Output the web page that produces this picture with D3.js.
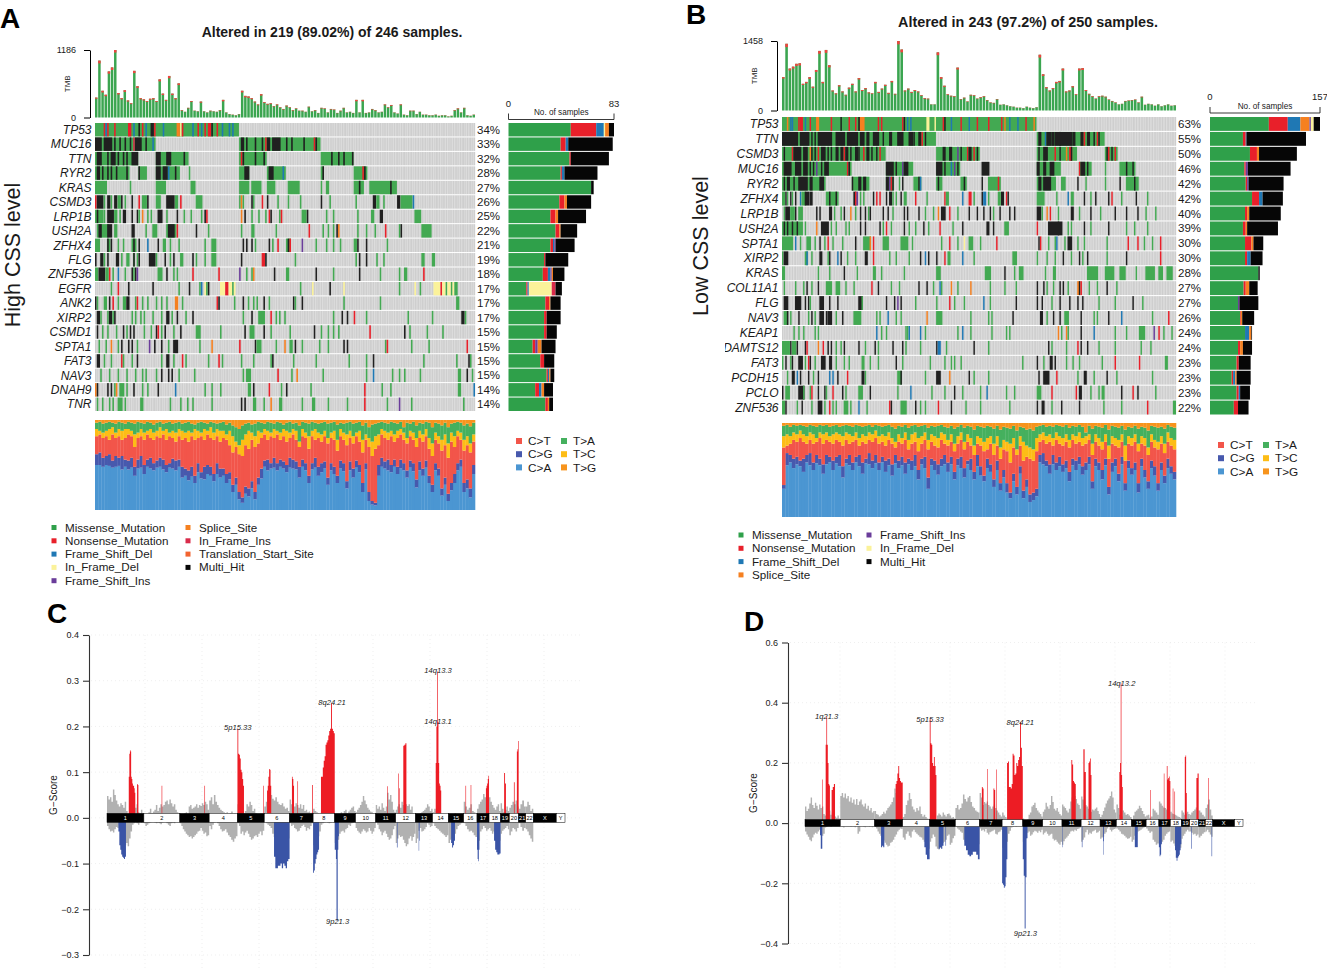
<!DOCTYPE html>
<html>
<head>
<meta charset="utf-8">
<script src="https://cdn.jsdelivr.net/npm/d3@7"></script>
<style>
  body { margin: 0; background: #fff; }
  text { font-family: "Liberation Sans", Arial, sans-serif; fill: #1a1a1a; }
</style>
</head>
<body>
<div id="graph"></div>
<script>
// variant classes used by the oncoplots
const variantNames = { g: 'Missense_Mutation', r: 'Nonsense_Mutation', b: 'Frame_Shift_Del', y: 'In_Frame_Del', p: 'Frame_Shift_Ins', o: 'Splice_Site', c: 'In_Frame_Ins', t: 'Translation_Start_Site', k: 'Multi_Hit' }
const variantColors = { g: '#2fa04a', r: '#e8202a', b: '#1f78b4', y: '#fbf29a', p: '#6a3d9a', o: '#f58020', c: '#d92b4b', t: '#f26430', k: '#060606' }
const titvNames = ['C>A', 'C>G', 'C>T', 'T>C', 'T>A', 'T>G']
const titvColors = ['#4b96d2', '#4759ad', '#f2554a', '#fdbd16', '#45b05e', '#f7941d']

// panel A
const genesA = ['TP53', 'MUC16', 'TTN', 'RYR2', 'KRAS', 'CSMD3', 'LRP1B', 'USH2A', 'ZFHX4', 'FLG', 'ZNF536', 'EGFR', 'ANK2', 'XIRP2', 'CSMD1', 'SPTA1', 'FAT3', 'NAV3', 'DNAH9', 'TNR']
const pctA = [34, 33, 32, 28, 27, 26, 25, 22, 21, 19, 18, 17, 17, 17, 15, 15, 15, 15, 14, 14]
// per gene: class + first sample [:run length], later tokens paint over earlier ones
const cellsA = [
  'g0:83 r5 r7 b6 r11 r19:2 b22 k25 r27 b29 k32:2 r34 b39 o47:2 y49 r50 b56 r59 b61 r63 r65:2 k67 r70 b73 b77 b79',
  'g0:35 k0:4 k5:5 k11 k14 k17 k20 c22 k23:4 k29 b33 g83:47 k84:2 k87 k92 k96 r98 k99:2 k102:5 k110 k113 k120 r126 k127',
  'g0:25 k1:3 k7 k9:3 k13 k16 k18 k21:4 g35:19 k35:3 k41:3 k51 g83:16 r84 k85 k92 k97 g130:19 k136 k140 k143 k148',
  'g0:20 k1:2 k4 k7 k9 k12 k18 g25:5 k25 g35:14 k35:3 k39:3 b42 k46 g54 g83:6 k86:3 g99:11 k100:3 b108 g130:2 k131 g149:8 r154 k155',
  'g0:7 g20 g35:6 g55:3 g83:6 g90:6 g99:5 g111:7 g130 g133:2 g149:6 k152 g158:16 k170',
  'r0 k1:4 g5 k7:2 g9 k11:2 g13:2 k15 g17 k21 r25 g27:3 k30 g35:3 k41:5 g46:2 r49 g58:4 g83 o84 g85 k90 g91 r96 k99 g105 g111 g118 k130 g135 g150 k160:2 g162:2 g166 k174:2 g176:7 b183',
  'g0:5 k1 g5 k7:4 g11:2 k16:2 g14 k21 k24 o27 g25 g30 g32 k36:3 g41 k47 g51 g55 k63 r64 g61 o84 k86 g90 g94 g98 r100 k101 g106 r107 g119:3 k122 g133 g137 g151 g159:2 k164:2 g184:4',
  'g1:7 k2:2 k7:3 g11:2 k21:2 g29 g33:3 g41:6 k42:4 r47 k58 g65 g84 g90:2 g104 r123 g131 g134 g137 k139 o140 g151 g156 g161 r167 g175 k176 g188:6',
  'g0:3 g7:2 k7 k9 g13 g16 g21:3 k22 k25 b30 k36 g39:2 g43 g48 g63 g67:3 k85 k87 k90 g92 k100 g102 r105 g110:3 k111 r112 p119 g127 g133 g137 g141 g149:2 k151 k156 g168',
  'k0 k3:2 g5 k7 k12:2 g15 g18:2 g22 k22 g24 k25 k31:4 g35 k40 g43 k45 g49:2 k56 g58 g63 g67:3 k84 r96:2 k98 g115 g150 k152 k156 g162 g166 g188:2 g194:2',
  'g0:2 k2:4 g6:2 r8 g10 b13 g17 g22 k21 k23 p24 g36:3 k41 g45 g47 r56 r71 p83 g87 g90 o91 k103 g110:2 k127 g137 k152 g164 g175 g178:2 r189',
  'g9 r13 k19 k33 g48 k54 g60 b61 y63 g64 k65 y72:3 r75:2 y77:2 g79 y80 g118 y125 k135 y143 g175 y184 g187 y195:4 r199 y200:2 g202 y203:2 g205 y206 g207:2',
  'k0 g1 g5:2 k8 r10 g13 g16:2 k18:2 g23 r24 g27 g30 g35 g38 g41 o46:2 g50 r70 k71 g80 k85 g88 g91 g93 k97 g100 k114 g115 k119 g143 g164 g208:2',
  'k1:2 g3 g7 k8:2 g10 k11 g21 g23 g26 g28 g33 g38 k41:2 g44 k47 g52 k56 g85 k90 g94:4 r101 g104 g106 g109 g137 k142 k145 r149 g156 g180 g194 k211:2 g213',
  'k1 g4 g7 g12 k16 g18 k20 k22 g28 g32 k35 r36 g38 k40 g45 k49 g58:3 g72 k86 g89:3 k97 g101 g112 k126 g130 g134 g137 g140 r158 k178 g181 g191 g200',
  'g2 g6 o9 g13 k15 k19 k21 g24 p31 k34 k38 g42 k45:3 g60 o67 r83 k92 g93:3 g104 o109 g112:2 k115 g119 g129 g134 k143 k145 g167 r168 g182 g192 r214',
  'k1:2 g5 g9 r15 g16 g21 k24 g38 k41:2 g45 r50 g52 g65 r71 g73 g84 g91 g101 k102 g114 g127 g146 g156 k160 g189 g208 k215 g216',
  'g3 g8 g13 g18 g23 g27 g29 g35 k38 k42 k44 g48 g57 g85 g87:3 r105 g113 o116 g131 g156 b160 g171 g175 g178 g187 g209:2 k214 g217',
  'o0 k1 k7 k9 g11 o12 g14:3 g18 k22 g27 g30 k36 b46 g63 g67 g72 g88:2 k91 r100 g107 k110 g124 r155 g165 g170 g209:2 b218',
  'g1 g4 g8 g10 g13:3 g17 g26:2 g43 g49 g53 g56 g67 k84 k86 g91:2 g97 o101 g106:2 g119 g125:2 g134 g145 r155 g168 p175 g182 g212'
]
// per gene counts per class, drawn left to right in this order
const sideOrderA = ['g', 'r', 'b', 'y', 'p', 'o', 'c', 'k']
const sideA = [
  [49, 20, 6, 1, 0, 3, 0, 4], [41, 4, 2, 0, 0, 0, 0, 35], [48, 1, 0, 0, 0, 0, 0, 30], [41, 1, 2, 0, 0, 0, 0, 26], [65, 0, 0, 0, 0, 0, 0, 2],
  [40, 4, 0, 0, 0, 2, 0, 19], [33, 4, 0, 0, 0, 2, 0, 22], [37, 3, 0, 0, 0, 1, 0, 13], [33, 2, 1, 0, 1, 0, 0, 15], [28, 1, 0, 0, 0, 0, 0, 18],
  [27, 4, 2, 0, 1, 1, 0, 9], [14, 1, 1, 18, 0, 0, 3, 5], [29, 3, 0, 0, 0, 1, 0, 8], [28, 2, 0, 0, 0, 0, 0, 11], [28, 2, 0, 0, 0, 0, 0, 8],
  [19, 2, 0, 0, 2, 3, 0, 11], [25, 3, 0, 0, 0, 0, 0, 8], [30, 1, 1, 0, 0, 1, 0, 3], [21, 3, 2, 0, 0, 2, 0, 7], [29, 2, 0, 0, 0, 1, 0, 3]
]
const tmbA = [350, 1000, 470, 400, 810, 880, 1186, 430, 340, 480, 300, 250, 820, 550, 340, 320, 290, 330, 340, 290, 670, 420, 310, 730, 420, 340, 600, 130, 100, 170, 290, 120, 110, 280, 110, 90, 120, 110, 100, 130, 310, 90, 60, 50, 40, 60, 470, 380, 370, 340, 280, 230, 410, 270, 240, 250, 200, 230, 180, 150, 210, 180, 130, 160, 120, 120, 100, 190, 110, 130, 80, 170, 160, 90, 150, 140, 80, 120, 170, 90, 100, 80, 310, 90, 310, 80, 90, 150, 130, 90, 100, 230, 180, 220, 90, 70, 230, 50, 40, 120, 120, 60, 100, 50, 50, 40, 40, 50, 30, 40, 40, 20, 30, 130, 160, 90, 170, 40, 30, 50]
const tmbCapA = [20, 50, 30, 25, 40, 45, 45, 25, 20, 30, 20, 15, 40, 30, 20, 20, 15, 20, 20, 15, 35, 25, 15, 40, 25, 20, 30, 10, 5, 10, 15, 5, 5, 20, 5, 5, 10, 5, 5, 10, 25, 5, 5, 5, 5, 5, 30, 25, 25, 20, 15, 15, 25, 15, 15, 15, 10, 15, 10, 10, 15, 10, 10, 10, 5, 10, 5, 10, 5, 10, 5, 10, 10, 5, 10, 10, 5, 10, 10, 5, 5, 5, 25, 5, 25, 5, 5, 10, 10, 5, 5, 15, 10, 15, 5, 5, 15, 5, 5, 10, 10, 5, 5, 5, 5, 5, 5, 5, 5, 5, 5, 5, 5, 10, 15, 5, 10, 5, 5, 5]
const caA = [50, 50, 48, 50, 49, 47, 48, 49, 45, 48, 45, 47, 38, 46, 47, 40, 48, 46, 44, 47, 48, 45, 42, 47, 46, 44, 48, 36, 38, 33, 37, 30, 42, 35, 34, 40, 38, 32, 40, 36, 38, 30, 34, 20, 28, 12, 8, 18, 15, 24, 12, 28, 35, 48, 44, 46, 47, 44, 48, 46, 42, 47, 46, 45, 36, 48, 44, 30, 45, 47, 38, 42, 46, 28, 44, 40, 30, 46, 43, 24, 44, 36, 47, 42, 20, 45, 10, 6, 5, 38, 48, 46, 44, 42, 48, 40, 46, 44, 36, 47, 43, 25, 44, 38, 47, 30, 20, 44, 38, 16, 28, 10, 22, 30, 44, 48, 20, 24, 14, 40]
const cgTopA = [62, 64, 58, 60, 62, 55, 60, 58, 60, 56, 55, 58, 48, 56, 60, 50, 56, 58, 52, 55, 58, 56, 50, 52, 57, 55, 56, 48, 46, 44, 48, 38, 52, 42, 48, 50, 48, 40, 52, 46, 46, 40, 42, 28, 36, 20, 14, 26, 24, 32, 20, 36, 46, 55, 56, 52, 58, 52, 56, 54, 50, 58, 56, 54, 48, 56, 52, 38, 52, 58, 48, 52, 54, 36, 52, 48, 38, 55, 52, 32, 54, 46, 55, 50, 30, 52, 20, 10, 8, 50, 58, 54, 56, 50, 56, 48, 56, 52, 44, 55, 52, 34, 54, 46, 55, 38, 28, 52, 46, 24, 36, 18, 30, 40, 52, 56, 30, 34, 24, 50]
const ctTopA = [82, 84, 80, 82, 78, 84, 80, 82, 78, 80, 84, 82, 70, 80, 82, 78, 84, 80, 78, 82, 80, 84, 78, 82, 80, 76, 82, 78, 80, 76, 82, 78, 80, 82, 78, 84, 80, 78, 82, 76, 80, 78, 72, 64, 70, 62, 60, 72, 68, 78, 70, 74, 80, 84, 78, 82, 80, 84, 78, 82, 76, 80, 84, 78, 70, 82, 80, 68, 82, 78, 80, 76, 82, 74, 80, 78, 66, 82, 78, 72, 80, 74, 82, 76, 64, 78, 70, 60, 68, 72, 84, 80, 78, 82, 76, 80, 84, 78, 74, 82, 78, 70, 80, 76, 82, 68, 60, 78, 74, 66, 72, 58, 76, 70, 82, 78, 66, 72, 64, 76]
const tcTopA = [90, 88, 86, 88, 90, 92, 86, 90, 88, 90, 90, 88, 84, 86, 90, 86, 88, 90, 86, 88, 92, 88, 90, 86, 88, 86, 90, 88, 86, 88, 86, 90, 88, 86, 90, 88, 92, 86, 90, 88, 88, 84, 88, 82, 76, 72, 78, 84, 88, 86, 82, 88, 86, 90, 88, 86, 90, 88, 86, 90, 88, 86, 90, 88, 76, 90, 86, 82, 88, 90, 86, 84, 88, 80, 86, 88, 78, 90, 86, 84, 88, 82, 86, 88, 78, 84, 80, 76, 82, 84, 90, 88, 86, 88, 84, 88, 90, 86, 80, 88, 86, 80, 88, 84, 90, 80, 74, 86, 82, 78, 84, 74, 86, 82, 88, 86, 78, 82, 74, 84]
const taTopA = [97, 98, 96, 97, 98, 97, 96, 98, 97, 96, 98, 97, 96, 98, 97, 96, 98, 97, 95, 97, 98, 96, 97, 98, 96, 97, 98, 96, 97, 98, 96, 95, 97, 98, 97, 96, 98, 97, 96, 97, 98, 95, 97, 94, 92, 90, 94, 96, 97, 95, 96, 98, 97, 96, 98, 97, 96, 98, 97, 95, 97, 98, 96, 97, 94, 98, 97, 96, 98, 97, 96, 97, 98, 96, 97, 98, 95, 97, 96, 97, 98, 96, 97, 98, 94, 97, 92, 95, 96, 97, 98, 97, 96, 98, 97, 96, 98, 92, 97, 96, 98, 94, 97, 96, 98, 97, 92, 97, 96, 94, 97, 92, 96, 97, 98, 97, 94, 96, 93, 97]
const legendA = ['g', 'r', 'b', 'y', 'p', 'o', 'c', 't', 'k']

// panel B
const genesB = ['TP53', 'TTN', 'CSMD3', 'MUC16', 'RYR2', 'ZFHX4', 'LRP1B', 'USH2A', 'SPTA1', 'XIRP2', 'KRAS', 'COL11A1', 'FLG', 'NAV3', 'KEAP1', 'ADAMTS12', 'FAT3', 'PCDH15', 'PCLO', 'ZNF536']
const pctB = [63, 55, 50, 46, 42, 42, 40, 39, 30, 30, 28, 27, 27, 26, 24, 24, 23, 23, 23, 22]
const cellsB = [
  'g0:157 o3 b5 r10 b6 r11:2 b14 r17 o21:2 r30 k36 r41 r45 k47:2 o48:3 r59 r61 r74 k75 b77 b79 y89:2 y94 r99 k100 b104 r110 b115 r120 r127 r135 o137 b140 b145 r150 o155',
  'g0:95 k0:10 k11:6 k18 k20 k22:9 k33:6 k40:7 k48:3 k52:2 k56:4 k62 k66:2 k71:4 k78:3 k81 k84:2 r86 k88 g157:42 k158:2 b162 k163:3 k166:2 k168:4 k171:8 k179:2 k184:2 r186 k188:2 k192 r194 k195',
  'g0:64 k1 r6 k7:5 k13:3 o17 k18 k20 r22 k24:3 k28 k30 k33:2 k36:2 r38 k39:2 k42 k45:2 k47 r50 k52:2 k55 k58 r60 g95:27 k99:2 k103:2 p108 k110 r114 k115:2 r118 k120 g157:25 k158 k161:3 r168 k171 o175 r177:2 k178 g199:8 k200 r201 k203 r205',
  'g0:43 k1:5 k8:4 k13:3 k17 k19 p21 k24 k26:3 r40 k41 g64:17 k64:5 k70 p74 k75:3 g95:15 k95:4 k100 b104 p106 k108 k123:5 g157:15 k157:2 k161:2 k165:3 g183:8 r183 k184:3 k188 g199 g208:10 k212 k216',
  'g0:27 k1 k3:2 k7 k10:6 k17:2 k23:3 g43:11 k43 k47:2 k50:2 g64:5 k64:2 p66 r67 k68 g72 k74 g81:5 k84 b85 g95:4 k96 g110:4 k112 k123 g127:8 r133 g157:12 k158:2 k161:5 g172:3 k182 g187 g199 k208 g212:8 k217',
  'g0:2 k2 g3 k5 g6 k8 b11 g12:3 k14:3 k17:2 g27:8 k29 k33 k44:2 r45 p46 g48 g50 k56 r58 r60 k64 k66:2 g68 g70 k73 g75:2 r82 g89 r100 g101:2 b111 r115:2 g118 k123 b124:2 g127 g133:2 k135:2 r138 k139 g157:5 g169 b176 g178:2 k186 g190 k193 k201 r203 g209 k218 g225',
  'g1 k2:3 g5:3 k8 g10:3 k21 k23 k29:2 g32 g36 k38 o42 g45 k48 k51 g53 k54 k62 k65 g68 k75 k77 k84 g88 g93 o96 k98:3 r103 g108 k115 k120 k124 k128 g130 k134 k140 k143 k157:3 g160 o163 r165 g170 k178:2 g183 k190 g196 k205 k212 k219 g224 g230',
  'g0:13 k1 k3 k6 k9 g14 o21 k24:5 g30 g33 g39 g41 k48 k51 k60 g62 r64 g67 k75 g78 g82 k87 g90 r97 g105 k111 k126:2 k130 g137:3 r157 k164:7 k170:3 g176 g178 k186 g190 k201 g212 g217 g225',
  'g0:7 b8 g11 g15:3 g20 k23 g26 r28 g31 g37 k45 g50:5 o54 r56 g62:4 g73:5 g80 g98 r103 g108 y112 g115:3 g122 r132 k158 r159 g164 g168 b169 g174 k176:3 g182 g186 g200 r213 r219 g223 g228 r233',
  'g0 k1:3 g14:2 b15 g18 k23:2 g28 k29 b34 k36 g40 g45 k51:2 r56 g66 g70 g78 k85 b88 k90 k95 r100 g102:2 b111 g118 g142:3 g157 g163 g168 k173 g178 k183 g185 k188 g200 k212 r233',
  'g0:2 g22 g29 k38 g46 g56:2 g61 g75 g95:3 g125:4 k137 g143 g146:3 g162 g167:2 g188:7 g199:6 g208:4 g218 g224:6 g232:3 g237:4',
  'g1 g8 g13 k15 g18 k22 g27:4 g33:3 g39 g44 r55 k59 g67 g72 k84 k89 g93 b97 g98 o104 g108 o116 g128 g137 g144 k157 k161 g163 g167 k171 k173 g176 o182:2 k183 r184 g189 g194 k200 g206',
  'k1:3 k8:4 k14 k16 g17 k23:3 k29 k34 k47:3 g49 k64 k69 p71 k73 g82 g95 r103 g106 g112 b124 g128 k144 k157 k160 g166 k171 k177 k182 k185 g195 g205 k216 g222',
  'g1:3 k3 g5 k10 g16 k18 g20 k23:3 k27 k28:3 g33 k37 g44:5 g58 g60 b65 g70 g73 o89 g95:4 g116 g127 g129 k142 k159:2 g163 k167 k171 g174:3 k184 g192 g194 k201 b209 g228 r238',
  'g7 g10 g13 g20 g22 b58 g61 g64 g76 g77 b78 b85 g88 g108 b111 g116 g129 g138 g140 o170 g172 o175 g176 k184 b192 g205 g212 g220:4 p229 r232 g235 g240',
  'g0:5 k5 g6:3 k9 k14 r15 o22 r25 k28 k30 g33 g36 k38 k47 g51 k57 g59 k68 k74 g76 g85 k95 b96:2 g101 k118 g127 k164 g166 g175 r182 k184 k188 g195 g205 g221 g227',
  'g0 k2 g5 k6 k10:3 g14 r16 k17 g20 k24:3 k29:2 g33 g38 g41 g49:2 g54 g59 k70 g74 g91 g100 g104 g106 g110 g148 k157 g161 k165:2 k168 g175 g179 g183 g197 r205 r220 g236:2',
  'g3 k6:2 b9 k11 k16 g19 k22 b29 b31 k34 r40 k49:2 g51 g71:3 k73 g88 k95:3 o103 k115 g118 g127 k158 k161:4 r169 g182 k186:2 g192 k200 g206 g228',
  'k0 g2:3 k10:4 g13 g17 r18 k22 k26 g27 r31 k37 g39 g47:3 k54 g71 b79 g92 g100 k106 g111 g122 b126 g138 g143 g157:3 r166 r181 k183:2 g190 g195 g197:2 k209 r216 k219 g230',
  'g0:2 k2 g9 k12 g18 k22:3 g26 r29 g31 g33 g38:3 g42 b47 g52 r66 k67 g73:4 k82 g85 g88 r96 k104 g113 g122 g140 k157 k160:2 g166 k172 k183 g198 g209 r225 g241:2'
]
const sideOrderB = ['g', 'r', 'b', 'o', 'p', 'y', 'k']
const sideB = [
  [84, 27, 18, 13, 2, 4, 9], [47, 4, 1, 0, 0, 0, 85], [57, 10, 0, 3, 0, 0, 54], [49, 2, 0, 0, 3, 0, 61], [51, 2, 0, 0, 2, 0, 50],
  [60, 10, 5, 0, 0, 0, 29], [50, 3, 0, 3, 0, 0, 45], [47, 4, 0, 2, 0, 0, 44], [50, 9, 0, 3, 0, 0, 14], [50, 3, 5, 0, 0, 0, 17],
  [69, 0, 0, 0, 0, 0, 2], [48, 3, 0, 5, 0, 0, 12], [40, 0, 0, 0, 2, 0, 27], [43, 1, 0, 2, 0, 0, 17], [50, 0, 6, 3, 0, 0, 1],
  [40, 3, 0, 4, 0, 0, 13], [38, 3, 0, 0, 0, 0, 17], [31, 2, 3, 2, 0, 0, 20], [38, 3, 2, 0, 0, 0, 14], [34, 6, 0, 0, 0, 0, 15]
]
const tmbB = [700, 1400, 880, 920, 980, 990, 560, 600, 700, 500, 850, 1250, 600, 1270, 950, 420, 360, 530, 400, 330, 480, 560, 400, 680, 430, 470, 380, 360, 600, 390, 460, 540, 370, 620, 350, 1458, 1280, 420, 460, 390, 430, 400, 320, 260, 250, 130, 130, 1220, 700, 520, 340, 310, 300, 900, 240, 270, 190, 330, 320, 250, 280, 300, 220, 170, 160, 240, 120, 130, 110, 90, 80, 60, 60, 50, 80, 60, 50, 70, 1170, 760, 490, 420, 470, 600, 620, 880, 400, 420, 510, 340, 880, 890, 430, 350, 300, 250, 300, 310, 290, 230, 200, 170, 130, 140, 200, 210, 220, 230, 170, 290, 120, 140, 130, 100, 130, 90, 110, 130, 100, 110]
const tmbCapB = [30, 70, 40, 40, 45, 45, 25, 30, 35, 25, 40, 60, 30, 60, 45, 20, 20, 25, 20, 15, 25, 25, 20, 30, 20, 25, 20, 15, 30, 20, 20, 25, 20, 30, 15, 70, 60, 20, 20, 20, 20, 20, 15, 15, 15, 5, 5, 60, 35, 25, 15, 15, 15, 40, 10, 15, 10, 15, 15, 10, 15, 15, 10, 10, 10, 10, 5, 5, 5, 5, 5, 5, 5, 5, 5, 5, 5, 5, 60, 35, 25, 20, 20, 30, 30, 40, 20, 20, 25, 15, 40, 40, 20, 15, 15, 10, 15, 15, 15, 10, 10, 10, 5, 5, 10, 10, 10, 10, 10, 15, 5, 5, 5, 5, 5, 5, 5, 5, 5, 5]
const caB = [30, 55, 58, 52, 56, 54, 48, 58, 55, 50, 57, 55, 46, 56, 58, 50, 57, 54, 42, 57, 55, 50, 58, 54, 46, 57, 56, 52, 57, 50, 58, 48, 55, 44, 57, 52, 55, 46, 56, 50, 54, 40, 56, 52, 30, 55, 50, 45, 54, 56, 48, 56, 40, 55, 52, 42, 56, 50, 40, 54, 44, 38, 52, 48, 32, 50, 28, 42, 26, 20, 38, 24, 46, 20, 32, 16, 18, 22, 58, 56, 54, 46, 56, 50, 54, 48, 52, 38, 55, 50, 56, 45, 50, 56, 30, 54, 50, 40, 55, 24, 48, 54, 38, 56, 28, 52, 45, 50, 26, 54, 42, 30, 52, 44, 28, 50, 36, 52, 46, 40]
const cgTopB = [34, 68, 66, 62, 64, 60, 62, 66, 68, 58, 66, 62, 56, 66, 64, 60, 64, 66, 54, 62, 66, 58, 64, 66, 58, 62, 68, 60, 66, 58, 64, 60, 62, 56, 66, 60, 64, 58, 62, 60, 66, 50, 62, 64, 42, 62, 60, 56, 62, 66, 58, 64, 48, 62, 64, 52, 60, 62, 48, 66, 54, 44, 62, 56, 40, 60, 36, 50, 36, 26, 46, 32, 54, 28, 40, 24, 26, 30, 66, 68, 60, 56, 66, 58, 64, 56, 60, 48, 62, 60, 64, 54, 58, 64, 38, 62, 58, 50, 62, 32, 58, 62, 46, 64, 36, 60, 52, 58, 36, 62, 50, 38, 60, 54, 36, 58, 44, 62, 54, 48]
const ctTopB = [74, 76, 78, 82, 80, 84, 80, 78, 82, 78, 80, 84, 78, 82, 80, 78, 82, 80, 76, 82, 78, 80, 82, 76, 80, 78, 82, 80, 84, 78, 80, 76, 82, 78, 74, 80, 78, 82, 72, 78, 80, 70, 78, 82, 72, 80, 76, 74, 82, 78, 76, 80, 70, 78, 82, 72, 80, 76, 66, 78, 76, 70, 72, 78, 66, 76, 62, 72, 70, 58, 74, 66, 76, 60, 64, 62, 60, 70, 80, 82, 78, 80, 76, 82, 78, 76, 80, 74, 82, 78, 80, 76, 78, 82, 66, 80, 76, 72, 80, 62, 78, 76, 74, 80, 60, 78, 76, 80, 70, 78, 76, 66, 80, 74, 72, 78, 68, 80, 76, 72]
const tcTopB = [86, 88, 86, 90, 88, 92, 88, 86, 90, 88, 84, 90, 88, 90, 86, 88, 90, 88, 86, 90, 88, 86, 90, 84, 88, 86, 90, 88, 92, 86, 88, 86, 90, 84, 80, 88, 84, 90, 82, 88, 90, 84, 86, 90, 82, 88, 86, 84, 90, 88, 82, 88, 78, 86, 90, 80, 88, 84, 76, 86, 84, 80, 84, 86, 78, 86, 74, 82, 80, 78, 84, 72, 86, 80, 76, 74, 72, 84, 88, 90, 86, 88, 84, 90, 86, 84, 88, 82, 88, 86, 90, 84, 86, 88, 78, 88, 84, 80, 88, 76, 86, 84, 82, 88, 76, 86, 84, 88, 78, 86, 84, 74, 88, 82, 80, 86, 78, 90, 84, 82]
const taTopB = [97, 98, 96, 98, 97, 98, 97, 96, 98, 97, 96, 98, 97, 98, 96, 97, 98, 96, 97, 98, 97, 96, 98, 97, 96, 97, 98, 96, 98, 97, 96, 97, 98, 96, 94, 97, 96, 98, 95, 97, 98, 96, 97, 98, 95, 97, 96, 97, 98, 96, 95, 97, 94, 96, 98, 95, 97, 96, 93, 97, 96, 95, 97, 96, 94, 97, 93, 96, 95, 94, 97, 92, 96, 95, 93, 94, 92, 96, 97, 98, 96, 97, 96, 98, 97, 96, 98, 95, 97, 96, 98, 96, 90, 97, 94, 97, 96, 95, 98, 93, 97, 96, 95, 97, 93, 96, 95, 97, 94, 96, 95, 92, 97, 96, 95, 96, 94, 98, 96, 95]
const legendB = ['g', 'r', 'b', 'o', 'p', 'y', 'k']

// chromosome sizes, Mb
const chroms = ['1', '2', '3', '4', '5', '6', '7', '8', '9', '10', '11', '12', '13', '14', '15', '16', '17', '18', '19', '20', '21', '22', 'X', 'Y']
const chromMb = [249, 243, 198, 191, 181, 171, 159, 146, 141, 136, 135, 134, 115, 107, 103, 90, 81, 78, 59, 63, 48, 51, 155, 59]

// G-scores x1000: non significant profile, one list per autosome
const ampGrayC = [
  [48, 40, 45, 35, 62, 50, 38, 30, 25, 32, 28, 22, 35, 15, 8, 30, 25, 20, 15, 22, 30, 12, 10, 18, 8],
  [5, 8, 6, 12, 20, 10, 14, 18, 28, 15, 22, 30, 25, 28, 35, 38, 30, 40, 32, 25, 30, 18, 12, 10],
  [5, 3, 8, 10, 12, 8, 25, 28, 20, 22, 25, 30, 22, 28, 26, 32, 28, 35, 30, 18],
  [38, 45, 30, 50, 35, 28, 22, 18, 15, 12, 10, 12, 8, 10, 14, 8, 10, 6],
  [30, 20, 25, 12, 10, 15, 30, 25, 35, 28, 15, 20, 10, 8, 5, 8, 6, 5],
  [25, 35, 58, 40, 50, 42, 38, 45, 35, 30, 28, 32, 25, 20, 22, 15],
  [40, 30, 35, 25, 32, 28, 22, 30, 20, 28, 15, 18, 12, 14, 10, 12],
  [20, 15, 12, 10, 8, 12, 10, 8, 10, 8, 10, 8, 8, 6],
  [4, 6, 5, 8, 12, 8, 15, 18, 10, 14, 18, 22, 25, 15],
  [12, 18, 22, 28, 35, 48, 38, 30, 22, 18, 14, 12, 10, 8],
  [28, 20, 25, 18, 32, 22, 15, 25, 55, 40, 50, 35, 18, 12],
  [18, 25, 30, 22, 35, 28, 22, 30, 26, 30, 18, 25, 10, 8],
  [3, 5, 8, 10, 12, 15, 18, 22, 30, 25, 15, 20],
  [12, 20, 15, 10, 10, 8, 6, 5, 5, 4],
  [4, 6, 5, 8, 10, 8, 6, 4, 6, 5],
  [35, 25, 18, 22, 30, 15, 12, 8],
  [20, 30, 35, 40, 52, 45, 38, 30],
  [45, 35, 28, 22, 18, 25, 30, 15],
  [32, 20, 12, 18, 25, 15],
  [22, 28, 35, 30, 38, 25],
  [20, 30, 38, 25],
  [25, 35, 28, 15, 20]
]
const delGrayC = [
  [18, 25, 30, 28, 32, 25, 20, 22, 15, 12, 35, 40, 60, 55, 62, 45, 30, 15, 12, 10, 12, 15, 8, 10, 8],
  [12, 18, 15, 12, 10, 8, 6, 10, 12, 10, 12, 14, 10, 8, 6, 12, 15, 18, 12, 10, 12, 8, 6, 8],
  [12, 18, 25, 30, 35, 38, 42, 40, 45, 42, 38, 35, 30, 28, 22, 28, 35, 32, 40, 38],
  [18, 25, 15, 10, 8, 12, 18, 25, 30, 28, 25, 32, 38, 42, 48, 52, 45, 40],
  [12, 18, 35, 30, 38, 32, 28, 35, 42, 48, 45, 40, 38, 42, 35, 30, 38, 28],
  [8, 12, 15, 18, 22, 35, 42, 50, 55, 60, 58, 62, 60, 55, 50, 45],
  [12, 18, 15, 22, 25, 30, 28, 22, 18, 15, 20, 28, 22, 25, 18, 12],
  [60, 55, 50, 40, 30, 15, 12, 10, 8, 10, 12, 10, 8, 10],
  [55, 50, 48, 35, 30, 28, 32, 25, 22, 15, 18, 12, 10, 8],
  [22, 28, 32, 35, 30, 25, 28, 32, 30, 22, 28, 35, 30, 22],
  [8, 15, 25, 30, 38, 32, 28, 35, 42, 48, 45, 38, 25, 18],
  [55, 45, 38, 42, 40, 48, 55, 62, 58, 45, 40, 50, 42, 35],
  [55, 45, 28, 22, 30, 28, 25, 20, 12, 15, 20, 18],
  [12, 18, 22, 25, 28, 32, 35, 38, 42, 38],
  [55, 48, 45, 40, 35, 25, 18, 15, 12, 10],
  [12, 18, 25, 30, 28, 32, 38, 42],
  [62, 50, 30, 25, 18, 22, 28, 25],
  [22, 28, 35, 30, 48, 55, 60, 50],
  [35, 28, 25, 22, 18, 25],
  [38, 30, 22, 25, 30, 22],
  [12, 20, 28, 22],
  [25, 30, 38, 45, 52]
]
const ampGrayD = [
  [55, 40, 48, 65, 85, 60, 50, 68, 58, 45, 62, 50, 55, 30, 25, 35, 30, 42, 28, 35, 30, 22, 18, 25, 15],
  [90, 100, 85, 98, 82, 90, 72, 85, 68, 78, 62, 80, 60, 72, 78, 62, 55, 65, 48, 58, 42, 50, 35, 40],
  [40, 30, 28, 22, 25, 30, 38, 32, 42, 50, 55, 62, 70, 85, 115, 100, 40, 30, 25, 15],
  [20, 30, 60, 75, 100, 80, 55, 45, 38, 50, 42, 55, 30, 22, 28, 20, 15, 12],
  [18, 25, 20, 15, 12, 25, 32, 28, 22, 35, 28, 22, 30, 32, 25, 18, 20, 15],
  [50, 60, 45, 50, 65, 95, 80, 72, 85, 90, 70, 55, 50, 42, 38, 35],
  [100, 85, 60, 70, 65, 72, 60, 55, 48, 55, 62, 50, 42, 35, 28, 22],
  [35, 25, 20, 15, 18, 12, 10, 8, 12, 10, 8, 10, 8, 6],
  [15, 10, 8, 12, 28, 35, 55, 60, 68, 50, 42, 35, 30, 22],
  [38, 45, 68, 55, 48, 60, 90, 70, 48, 42, 50, 38, 30, 25],
  [62, 55, 50, 42, 35, 48, 72, 85, 100, 90, 80, 65, 60, 48],
  [88, 78, 72, 60, 55, 48, 42, 38, 45, 42, 48, 52, 40, 30],
  [20, 28, 40, 52, 65, 75, 82, 90, 105, 85, 45, 35],
  [62, 50, 28, 22, 42, 35, 28, 30, 25, 20],
  [12, 25, 38, 42, 48, 58, 50, 40, 30, 22],
  [25, 28, 18, 22, 48, 42, 35, 28],
  [72, 65, 58, 52, 50, 45, 42, 38],
  [38, 32, 30, 28, 25, 22, 20, 18],
  [42, 35, 28, 32, 38, 30],
  [28, 35, 40, 45, 52, 42],
  [42, 35, 28, 22],
  [50, 62, 78, 45, 25]
]
const delGrayD = [
  [28, 38, 45, 55, 60, 48, 38, 32, 35, 28, 22, 25, 42, 35, 15, 12, 10, 8, 12, 10, 8, 10, 8, 6, 8],
  [8, 12, 15, 10, 8, 6, 10, 12, 8, 10, 14, 8, 35, 28, 10, 8, 12, 14, 10, 8, 12, 10, 14, 10],
  [12, 18, 28, 35, 42, 50, 58, 65, 72, 78, 75, 65, 62, 55, 45, 38, 28, 22, 18, 20],
  [48, 55, 35, 28, 42, 48, 28, 22, 30, 35, 40, 45, 48, 55, 62, 78, 92, 85],
  [62, 50, 38, 45, 78, 85, 88, 82, 75, 65, 62, 55, 42, 38, 72, 65, 50, 42],
  [12, 18, 22, 28, 32, 55, 62, 60, 65, 68, 70, 72, 68, 72, 75, 70],
  [18, 25, 22, 28, 20, 32, 38, 30, 28, 25, 22, 35, 38, 30, 28, 22],
  [82, 78, 70, 62, 35, 25, 15, 12, 10, 12, 10, 8, 10, 8],
  [62, 55, 50, 32, 28, 42, 38, 30, 25, 28, 32, 25, 30, 22],
  [38, 32, 28, 35, 42, 38, 35, 52, 58, 55, 62, 68, 72, 62],
  [72, 60, 52, 48, 42, 35, 28, 25, 28, 22, 25, 20, 18, 15],
  [62, 55, 48, 30, 22, 38, 32, 35, 28, 25, 22, 32, 30, 25],
  [52, 48, 45, 35, 30, 18, 12, 22, 28, 22, 20, 18],
  [18, 22, 28, 35, 38, 42, 48, 52, 50, 45],
  [62, 55, 42, 35, 28, 25, 22, 18, 15, 12],
  [18, 25, 32, 28, 55, 62, 72, 68],
  [72, 65, 62, 55, 42, 35, 30, 28],
  [62, 58, 68, 75, 78, 85, 90, 82],
  [52, 42, 35, 28, 22, 28],
  [28, 32, 38, 35, 42, 38],
  [48, 42, 35, 30],
  [28, 22, 30, 38, 45]
]

// significant regions: chromosome, from Mb, to Mb, G-scores x1000
const ampPeaksC = [
  ['1', 147, 191, [90, 140, 148, 145, 90, 85, 75, 70, 70, 65, 55]], ['1', 203, 212, [74, 72]], ['2', 120, 124, [70]], ['3', 166, 170, [70]],
  ['5', 0, 44, [195, 140, 138, 130, 105, 100, 85, 70]], ['5', 173, 177, [70]], ['6', 19, 47, [60, 70, 90, 107, 105, 70]],
  ['7', 16, 30, [90, 85, 70]], ['7', 53, 57, [80]], ['7', 152, 157, [72]],
  ['8', 53, 146, [90, 90, 110, 125, 135, 160, 165, 170, 180, 190, 195, 250, 195, 190, 185]],
  ['11', 78, 82, [69]], ['12', 18, 26, [97, 65]], ['12', 51, 72, [158, 160, 163]],
  ['14', 21, 58, [120, 200, 320, 210, 120, 75, 70, 60]], ['16', 12, 16, [70]], ['16', 47, 51, [72]], ['17', 60, 81, [65, 70, 75, 85, 92]],
  ['19', 24, 36, [98, 75]], ['20', 31, 36, [78]], ['20', 51, 63, [145, 150, 168]]
]
const delPeaksC = [
  ['1', 77, 128, [30, 60, 70, 80, 85, 87, 90, 85]], ['6', 66, 171, [85, 110, 110, 105, 105, 100, 110, 100, 105, 110, 95, 90]],
  ['8', 0, 40, [120, 115, 100, 90, 80, 75, 70]], ['9', 0, 28, [70, 70, 90, 225, 225, 70, 40]], ['12', 8, 12, [65]], ['13', 21, 27, [72, 50]],
  ['15', 18, 44, [55, 65, 60, 50]], ['17', 0, 16, [70, 90, 95, 70]], ['18', 34, 78, [50, 70, 75, 80, 80, 78]]
]
const ampPeaksD = [
  ['1', 120, 124, [145]], ['1', 146, 176, [260, 355, 260, 200, 130, 125]], ['1', 188, 212, [110, 120, 130]],
  ['3', 148, 198, [130, 140, 165, 190, 150, 140, 135, 135]], ['5', 0, 47, [345, 265, 260, 200, 190, 220, 190, 160]],
  ['7', 16, 28, [120, 115]], ['7', 54, 58, [180]], ['7', 98, 110, [115, 110]], ['7', 116, 120, [178]],
  ['8', 35, 146, [200, 205, 120, 120, 115, 130, 230, 225, 160, 165, 200, 190, 210, 220, 335, 250, 190]],
  ['11', 66, 97, [210, 195, 140, 135, 130]], ['12', 16, 33, [245, 170]], ['12', 52, 73, [200, 205, 215, 160]],
  ['14', 21, 45, [170, 200, 465, 160, 120]], ['16', 29, 33, [110]], ['17', 35, 39, [165]], ['17', 56, 81, [190, 145, 150, 155, 140]],
  ['18', 17, 21, [115]], ['18', 29, 33, [105]], ['19', 24, 38, [220, 225, 100]], ['20', 47, 63, [150, 165]], ['22', 18, 22, [150]]
]
const delPeaksD = [
  ['1', 106, 122, [40, 85, 85]], ['3', 45, 68, [80, 75, 80]], ['4', 153, 190, [80, 105, 120, 120]], ['5', 63, 97, [85, 80, 85, 75]], ['5', 111, 115, [75]],
  ['6', 63, 171, [75, 90, 105, 110, 105, 95, 95, 105, 120]], ['8', 0, 37, [200, 205, 215, 210, 180, 120]], ['9', 0, 33, [120, 175, 350, 180, 50]],
  ['11', 0, 3, [80]], ['12', 5, 9, [80]], ['13', 21, 27, [105, 60]], ['15', 23, 44, [80, 80]], ['17', 0, 21, [80, 110, 105, 70]],
  ['18', 33, 78, [90, 115, 125, 115, 110, 105, 90, 70]], ['20', 10, 14, [85]], ['22', 43, 47, [110]]
]
// cytoband, chromosome, Mb, G-score x1000 where the label sits
const labelsC = [['5p15.33', '5', 2, 197], ['8q24.21', '8', 128, 253], ['14q13.3', '14', 37, 323], ['14q13.1', '14', 37, 212], ['9p21.3', '9', 19, -227]]
const labelsD = [['1q21.3', '1', 153, 355], ['5p15.33', '5', 2, 345], ['8q24.21', '8', 128, 335], ['14q13.2', '14', 37, 465], ['9p21.3', '9', 19, -365]]

const svg = d3.select('#graph').append('svg')
  .attr('width', 1327)
  .attr('height', 968)
  .style('display', 'block')

const label = (g, x, y, str, size, anchor = 'start') => g.append('text')
  .attr('x', x).attr('y', y)
  .attr('dy', '0.35em')
  .attr('text-anchor', anchor)
  .attr('font-size', size)
  .text(str)

const parseCells = (str) => str.split(' ').map((tok) => {
  const [start, len] = tok.slice(1).split(':')
  return { type: tok[0], start: +start, len: +(len || 1) }
})

const drawOnco = (c) => {
  const g = svg.append('g')
  label(g, c.titleX, c.titleY, c.title, c.titleSize, 'middle').attr('font-weight', 'bold')

  // TMB bars
  const xTmb = d3.scaleBand().domain(d3.range(c.tmb.length)).range(c.x).paddingInner(0.22)
  const yTmb = d3.scaleLinear().domain([0, c.tmbMax]).range(c.tmbY)
  const bars = g.append('g').selectAll('g').data(c.tmb).join('g')
    .attr('transform', (d, i) => `translate(${xTmb(i)},0)`)
  bars.append('rect')
    .attr('y', (d) => yTmb(d)).attr('width', xTmb.bandwidth())
    .attr('height', (d) => yTmb(0) - yTmb(d)).attr('fill', '#3ba550')
  bars.append('rect')
    .attr('y', (d) => yTmb(d)).attr('width', xTmb.bandwidth())
    .attr('height', (d, i) => yTmb(0) - yTmb(c.tmbCap[i])).attr('fill', '#f0443f')
  g.append('g').attr('transform', `translate(${c.tmbAxisX},0)`)
    .call(d3.axisLeft(yTmb).tickValues([0, c.tmbMax]).tickSize(6).tickSizeOuter(0).tickFormat(d3.format('d')))
    .call((a) => a.selectAll('text').attr('font-size', 9).attr('dx', -5).style('font-family', '"Liberation Sans"'))
  const tmbMid = (c.tmbY[0] + c.tmbY[1]) / 2
  label(g, c.tmbAxisX - 23, tmbMid, 'TMB', 8, 'middle')
    .attr('transform', `rotate(-90,${c.tmbAxisX - 23},${tmbMid})`)

  // mutation matrix
  const xCell = d3.scaleBand().domain(d3.range(c.samples)).range(c.x).paddingInner(0.1)
  const yRow = d3.scaleBand().domain(c.genes).range(c.matrixY).paddingInner(0.07)
  const rows = g.append('g').selectAll('g').data(c.genes).join('g')
    .attr('transform', (d) => `translate(0,${yRow(d)})`)
  rows.each(function (gene, r) {
    const row = d3.select(this)
    row.selectAll('rect.bg').data(d3.range(c.samples)).join('rect')
      .attr('class', 'bg')
      .attr('x', (i) => xCell(i)).attr('width', xCell.step())
      .attr('height', yRow.bandwidth())
      .attr('fill', (i) => i % 2 ? '#d2d2d2' : '#cecece')
    row.selectAll('rect.mut').data(parseCells(c.cells[r])).join('rect')
      .attr('class', 'mut')
      .attr('x', (d) => xCell(d.start))
      .attr('width', (d) => xCell.step() * d.len - 0.15)
      .attr('height', yRow.bandwidth())
      .attr('fill', (d) => d.type === 'k' ? '#202020' : d.type === 'g' ? '#43a952' : variantColors[d.type])
  })
  const names = g.append('g')
  if (c.clipX) {
    svg.append('clipPath').attr('id', 'geneClip').append('rect')
      .attr('x', c.clipX).attr('y', 0).attr('width', 200).attr('height', 968)
    names.attr('clip-path', 'url(#geneClip)')
  }
  c.genes.forEach((gene, r) => {
    label(names, c.x[0] - 3.5, yRow(gene) + yRow.bandwidth() / 2, gene, 12, 'end').attr('font-style', 'italic')
    label(g, c.x[1] + 2, yRow(gene) + yRow.bandwidth() / 2, `${c.pct[r]}%`, 11.5)
  })

  // per gene bars
  const xSide = d3.scaleLinear().domain([0, c.sideMax]).range(c.sideX)
  const stack = d3.stack().keys(d3.range(c.sideOrder.length))(c.side)
  g.append('g').selectAll('g').data(stack).join('g')
    .attr('fill', (s, i) => variantColors[c.sideOrder[i]])
    .selectAll('rect').data((s) => s).join('rect')
    .attr('x', (d) => xSide(d[0]))
    .attr('y', (d, i) => yRow(c.genes[i]))
    .attr('width', (d) => xSide(d[1]) - xSide(d[0]))
    .attr('height', yRow.bandwidth())
  const by = c.sideAxisY
  g.append('path')
    .attr('d', `M${c.sideX[0]},${by - 6}V${by}H${c.sideX[1]}V${by - 6}`)
    .attr('fill', 'none').attr('stroke', '#222').attr('stroke-width', 0.9)
  label(g, c.sideX[0], by - 16, '0', 9.5, 'middle')
  label(g, c.sideX[1], by - 16, c.sideMax, 9.5, 'middle')
  label(g, (c.sideX[0] + c.sideX[1]) / 2, by - 7, 'No. of samples', 8.2, 'middle')

  // Ti/Tv stack
  const tops = [c.titv[0], c.titv[1], c.titv[2], c.titv[3], c.titv[4], c.titv[0].map(() => 100)]
  const xTi = d3.scaleBand().domain(d3.range(c.titv[0].length)).range(c.x)
  const yTi = d3.scaleLinear().domain([0, 100]).range(c.titvY)
  tops.forEach((top, k) => {
    g.append('g').selectAll('rect').data(top).join('rect')
      .attr('x', (d, i) => xTi(i))
      .attr('width', xTi.bandwidth() + 0.3)
      .attr('y', (d) => yTi(d))
      .attr('height', (d, i) => Math.max(0, yTi(k ? tops[k - 1][i] : 0) - yTi(d)))
      .attr('fill', titvColors[k])
  })
  // Ti/Tv legend, three rows in two columns
  const order = [2, 4, 1, 3, 0, 5]
  order.forEach((k, i) => {
    const lx = c.titvLegX[i % 2]
    const ly = c.titvLegY + Math.floor(i / 2) * 13.2
    g.append('rect').attr('x', lx - 3).attr('y', ly - 3).attr('width', 6).attr('height', 6).attr('fill', titvColors[k])
    label(g, lx + 9, ly, titvNames[k], 11.8)
  })

  // variant legend
  c.legend.forEach((key, i) => {
    const col = i < c.legendSplit ? 0 : 1
    const lx = c.legX[col]
    const ly = c.legY + (col ? i - c.legendSplit : i) * 13.3
    g.append('rect').attr('x', lx - 2.5).attr('y', ly - 2.5).attr('width', 5).attr('height', 5).attr('fill', variantColors[key])
    label(g, lx + 11, ly, variantNames[key], 11.65)
  })
}

const drawGistic = (c) => {
  const g = svg.append('g')
  const starts = d3.cumsum([0].concat(chromMb))
  const x = d3.scaleLinear().domain([0, d3.sum(chromMb)]).range(c.bandX)
  const y = d3.scaleLinear().domain(c.yDomain).range(c.y)
  const pos = (chr, mb) => starts[chroms.indexOf(chr)] + mb

  // dotted grid
  const gridX = d3.range(c.gridFrom, c.gridTo, c.gridStep)
  g.append('g').selectAll('line').data(gridX).join('line')
    .attr('x1', (d) => d).attr('x2', (d) => d)
    .attr('y1', c.y[1]).attr('y2', 968)
    .attr('stroke', '#e4e4e4').attr('stroke-width', 0.6).attr('stroke-dasharray', '1 3')
  g.append('g').selectAll('line').data(c.ticks).join('line')
    .attr('x1', c.axisX + 2).attr('x2', c.gridTo)
    .attr('y1', (d) => y(d)).attr('y2', (d) => y(d))
    .attr('stroke', '#e4e4e4').attr('stroke-width', 0.6).attr('stroke-dasharray', '1 3')

  const area = d3.area().x((d) => x(d[0])).y0(y(0)).y1((d) => y(d[1])).curve(d3.curveStepAfter)
  const toPoints = (from, to, vals, sign) => {
    const pts = vals.map((v, i) => [from + i * (to - from) / vals.length, sign * v])
    pts.push([to, sign * vals[vals.length - 1]])
    return pts
  }
  // grey profile then the significant regions on top
  const drawGrey = (lists, sign) => lists.forEach((vals, i) => {
    g.append('path').datum(toPoints(starts[i], starts[i + 1], vals, sign))
      .attr('d', area).attr('fill', '#b1b1b1')
  })
  const drawPeaks = (peaks, sign, color) => peaks.forEach((p) => {
    g.append('path').datum(toPoints(pos(p[0], p[1]), pos(p[0], p[2]), p[3], sign))
      .attr('d', area).attr('fill', color)
  })
  drawGrey(c.ampGray, 1)
  drawGrey(c.delGray, -1)
  drawPeaks(c.ampPeaks, 1, '#ed1c24')
  drawPeaks(c.delPeaks, -1, '#3a54a6')

  // chromosome band
  chroms.forEach((name, i) => {
    const dark = i % 2 === 0
    g.append('rect')
      .attr('x', x(starts[i])).attr('width', x(starts[i + 1]) - x(starts[i]))
      .attr('y', y(0) - c.bandH / 2).attr('height', c.bandH)
      .attr('fill', dark ? '#000' : '#fff').attr('stroke', '#000').attr('stroke-width', 0.5)
    label(g, (x(starts[i]) + x(starts[i + 1])) / 2, y(0), name, 5.6, 'middle')
      .style('fill', dark ? '#fff' : '#000')
  })

  g.append('g').attr('transform', `translate(${c.axisX},0)`)
    .call(d3.axisLeft(y).tickValues(c.ticks).tickSize(6).tickSizeOuter(0).tickFormat((d) => d3.format('.1f')(d / 1000)))
    .call((a) => a.selectAll('path,line').attr('stroke', '#333').attr('stroke-width', 1.1))
    .call((a) => a.selectAll('text').attr('font-size', 9).attr('dx', -1).style('font-family', '"Liberation Sans"'))
  label(g, c.gLabel[0], c.gLabel[1], 'G\u2212Score', 10, 'middle')
    .attr('transform', `rotate(-90,${c.gLabel[0]},${c.gLabel[1]})`)

  c.labels.forEach((l) => {
    label(g, x(pos(l[1], l[2])), y(l[3]), l[0], 7.6, 'middle').attr('font-style', 'italic')
  })
}

drawOnco({
  title: 'Altered in 219 (89.02%) of 246 samples.', titleX: 332, titleY: 32, titleSize: 14,
  samples: 219, genes: genesA, pct: pctA, cells: cellsA, side: sideA, sideOrder: sideOrderA, sideMax: 83,
  tmb: tmbA, tmbCap: tmbCapA, tmbMax: 1186, titv: [caA, cgTopA, ctTopA, tcTopA, taTopA], legend: legendA, legendSplit: 5,
  x: [95, 475], tmbY: [117.5, 50], tmbAxisX: 90, matrixY: [123, 411], sideX: [508.5, 614], sideAxisY: 119.5,
  titvY: [510, 420], titvLegX: [519, 564], titvLegY: 441, legX: [54, 188], legY: 527.5
})
drawOnco({
  title: 'Altered in 243 (97.2%) of 250 samples.', titleX: 1028, titleY: 22, titleSize: 14.4,
  samples: 243, genes: genesB, pct: pctB, cells: cellsB, side: sideB, sideOrder: sideOrderB, sideMax: 157,
  tmb: tmbB, tmbCap: tmbCapB, tmbMax: 1458, titv: [caB, cgTopB, ctTopB, tcTopB, taTopB], legend: legendB, legendSplit: 4,
  x: [782, 1176], tmbY: [110.5, 41], tmbAxisX: 777, matrixY: [117, 414.5], sideX: [1210, 1320], sideAxisY: 113,
  titvY: [517, 423], titvLegX: [1221, 1266], titvLegY: 445, legX: [741, 869], legY: 535, clipX: 725
})
drawGistic({
  ampGray: ampGrayC, delGray: delGrayC, ampPeaks: ampPeaksC, delPeaks: delPeaksC, labels: labelsC,
  yDomain: [-300, 400], ticks: [-300, -200, -100, 0, 100, 200, 300, 400], gLabel: [53, 795],
  y: [955, 635], bandX: [107, 565], bandH: 9, axisX: 89, gridFrom: 145, gridTo: 580, gridStep: 57
})
drawGistic({
  ampGray: ampGrayD, delGray: delGrayD, ampPeaks: ampPeaksD, delPeaks: delPeaksD, labels: labelsD,
  yDomain: [-400, 600], ticks: [-400, -200, 0, 200, 400, 600], gLabel: [753, 793],
  y: [943.5, 642.5], bandX: [805, 1243], bandH: 7, axisX: 788, gridFrom: 840, gridTo: 1258, gridStep: 55
})

// panel letters and group titles
const letters = [['A', 0, 18], ['B', 686, 14], ['C', 47, 613], ['D', 744, 621]]
letters.forEach((l) => label(svg, l[1], l[2], l[0], 28).attr('font-weight', 'bold').style('fill', '#000'))
const groupTitles = [['High CSS level', 12, 255], ['Low CSS level', 700, 246]]
groupTitles.forEach((t) => label(svg, t[1], t[2], t[0], 21.5, 'middle').attr('transform', `rotate(-90,${t[1]},${t[2]})`))
</script>
</body>
</html>
